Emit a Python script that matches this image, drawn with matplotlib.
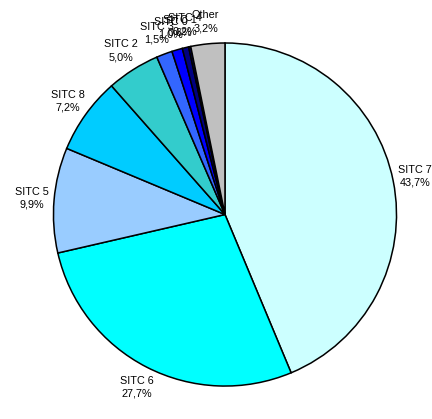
import numpy as np
import matplotlib
matplotlib.use('Agg')
import matplotlib.pyplot as plt

plt.rcParams['font.family'] = ['Liberation Sans', 'DejaVu Sans']

# data
labels = ['SITC 7', 'SITC 6', 'SITC 5', 'SITC 8', 'SITC 2', 'SITC 3', 'SITC 0', 'SITC 1', 'SITC 4', 'Other']
shares = [43.7, 27.7, 9.9, 7.2, 5.0, 1.5, 1.0, 0.6, 0.2, 3.2]
colors = ['#CCFFFF', '#00FFFF', '#99CCFF', '#00CCFF', '#33CCCC',
          '#3366FF', '#0000FF', '#000080', '#000066', '#C0C0C0']

fig = plt.figure(figsize=(4.32, 4.19), dpi=100)
ax = fig.add_axes([0.1158, 0.070, 0.81, 0.836])

wedges, _ = ax.pie(shares, colors=colors, startangle=90, counterclock=False,
                   wedgeprops=dict(edgecolor='black', linewidth=1.1))
ax.set_aspect('equal')

# labels outside, centred on the mid angle
for w, lab, v in zip(wedges, labels, shares):
    ang = np.deg2rad((w.theta1 + w.theta2) / 2)
    r = 1.13
    ax.text(r * np.cos(ang), r * np.sin(ang),
            f"{lab}\n{v:.1f}%".replace('.', ','),
            ha='center', va='center', fontsize=7.8, linespacing=1.35,
            multialignment='center')

ax.set_xlim(-1.02, 1.02)
ax.set_ylim(-1.02, 1.02)
ax.axis('off')

fig.savefig('out.png', dpi=100)
